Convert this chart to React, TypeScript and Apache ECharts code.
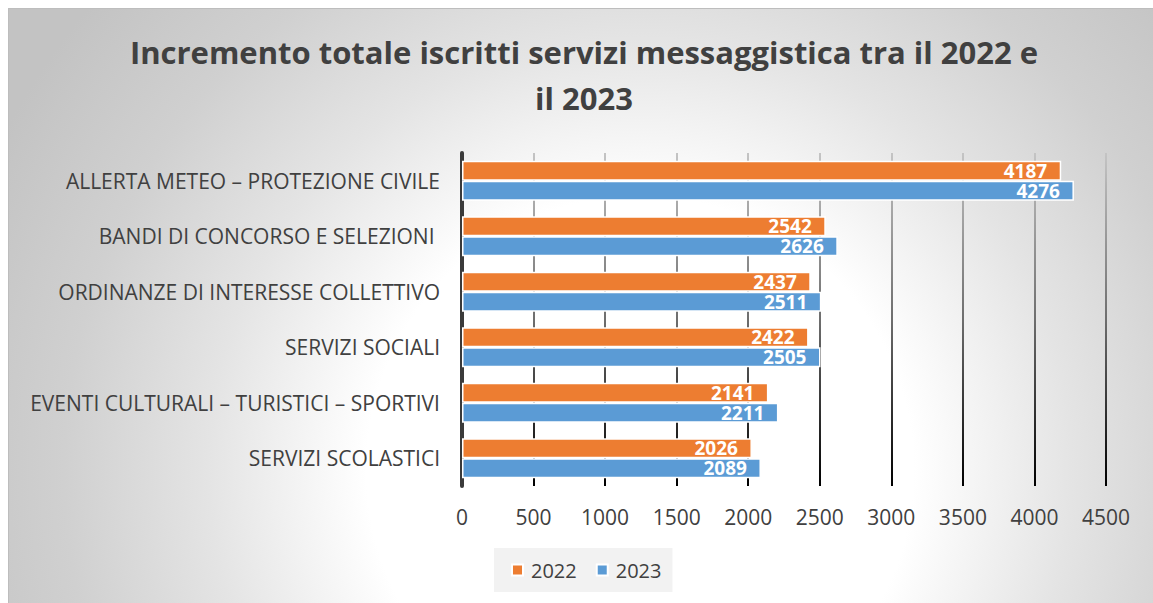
import React, { useEffect, useRef } from "react";
import * as echarts from "echarts";

const categories = [
  "ALLERTA METEO – PROTEZIONE CIVILE",
  "BANDI DI CONCORSO E SELEZIONI ",
  "ORDINANZE DI INTERESSE COLLETTIVO",
  "SERVIZI SOCIALI",
  "EVENTI CULTURALI – TURISTICI – SPORTIVI",
  "SERVIZI SCOLASTICI",
];
const values2022 = [4187, 2542, 2437, 2422, 2141, 2026];
const values2023 = [4276, 2626, 2511, 2505, 2211, 2089];
const seriesNames = ["2022", "2023"];
const xMin = 0;
const xMax = 4500;
const xInterval = 500;
const titleLines = [
  "Incremento totale iscritti servizi messaggistica tra il 2022 e",
  "il 2023",
];

const FONT = '"Open Sans", "Noto Sans", sans-serif';
const TEXT = "#404040";

export default function App() {
  const ref = useRef<HTMLDivElement>(null);
  useEffect(() => {
    if (!ref.current) return;
    const chart = echarts.init(ref.current, undefined, { renderer: "svg" });
    const gridTop = 145;
    const gridBottomY = 478;
    const labelStyle = {
      show: true,
      position: "insideRight",
      distance: 14,
      color: "#ffffff",
      fontWeight: "bold",
      fontSize: 19,
      lineHeight: 17,
      fontFamily: FONT,
    };
    chart.setOption({
      animation: false,
      backgroundColor: new echarts.graphic.RadialGradient(
        632,
        462,
        720,
        [
          { offset: 0, color: "#ffffff" },
          { offset: 0.38, color: "#ffffff" },
          { offset: 0.6, color: "#e4e4e4" },
          { offset: 0.8, color: "#d0d0d0" },
          { offset: 1, color: "#c3c3c3" },
        ],
        true
      ),
      graphic: [
        {
          type: "polyline",
          shape: { points: [[0.5, 595], [0.5, 0.5], [1145, 0.5]] },
          style: { stroke: "#bdbdbd", lineWidth: 1, fill: "none" },
          silent: true,
        },
        ...titleLines.map((t, i) => ({
          type: "text",
          x: 576,
          y: 44 + i * 46,
          style: {
            text: t,
            fill: TEXT,
            font: `bold 31px ${FONT}`,
            align: "center",
            verticalAlign: "middle",
            textAlign: "center",
            textVerticalAlign: "middle",
          },
        })),
      ],
      legend: {
        data: seriesNames,
        left: 486,
        top: 540,
        orient: "horizontal",
        padding: [12, 11, 12, 17],
        itemGap: 19,
        itemWidth: 11,
        itemHeight: 11,
        icon: "rect",
        backgroundColor: "#f2f2f2",
        textStyle: {
          color: TEXT,
          fontSize: 20,
          fontFamily: FONT,
          padding: [0, 0, 0, 3],
        },
      },
      grid: {
        left: 454,
        right: 47,
        top: gridTop,
        bottom: 595 - gridBottomY,
        containLabel: false,
      },
      xAxis: {
        type: "value",
        min: xMin,
        max: xMax,
        interval: xInterval,
        axisLine: { show: false },
        axisTick: { show: false },
        axisLabel: {
          color: TEXT,
          fontSize: 21,
          fontFamily: FONT,
          margin: 20,
          formatter: (v: number) => String(v),
        },
        splitLine: {
          show: true,
          lineStyle: {
            width: 2,
            color: new echarts.graphic.LinearGradient(
              0,
              gridTop,
              0,
              gridBottomY,
              [
                { offset: 0, color: "#c4c4c4" },
                { offset: 0.5, color: "#6e6e6e" },
                { offset: 1, color: "#000000" },
              ],
              true
            ),
          },
        },
      },
      yAxis: {
        type: "category",
        data: categories,
        inverse: true,
        axisLine: { show: true, lineStyle: { color: "#3a3a3a", width: 4 } },
        axisTick: { show: false },
        axisLabel: {
          color: TEXT,
          fontSize: 21,
          fontFamily: FONT,
          margin: 22,
        },
        splitLine: { show: false },
      },
      series: [
        {
          name: seriesNames[0],
          type: "bar",
          data: values2022,
          barGap: "0%",
          barCategoryGap: "28%",
          itemStyle: { color: "#ED7D31", borderColor: "#ffffff", borderWidth: 1.5 },
          label: labelStyle,
        },
        {
          name: seriesNames[1],
          type: "bar",
          data: values2023,
          barGap: "0%",
          barCategoryGap: "28%",
          itemStyle: { color: "#5B9BD5", borderColor: "#ffffff", borderWidth: 1.5 },
          label: labelStyle,
        },
      ],
    });
    return () => chart.dispose();
  }, []);
  return (
    <div
      ref={ref}
      style={{ position: "absolute", left: 8, top: 8, width: 1145, height: 595 }}
    />
  );
}
